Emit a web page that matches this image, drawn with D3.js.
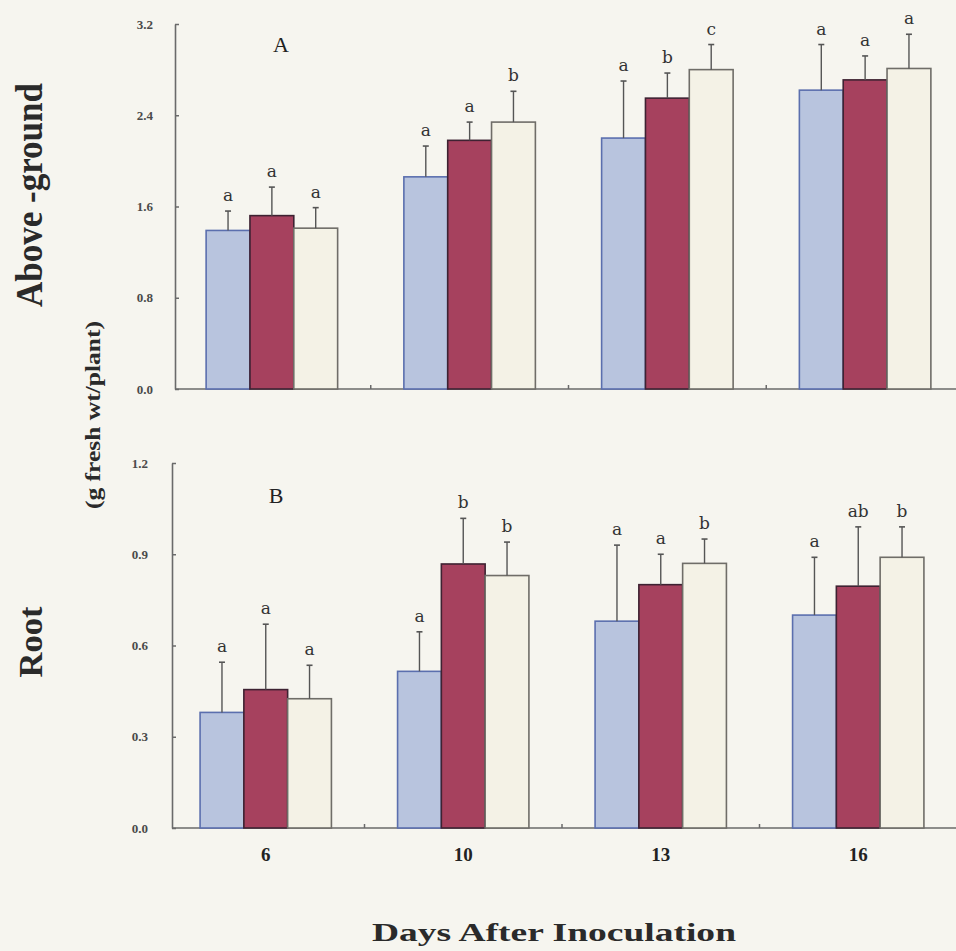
<!DOCTYPE html>
<html>
<head>
<meta charset="utf-8">
<script src="https://cdn.jsdelivr.net/npm/d3@7"></script>
<style>
  html, body { margin: 0; padding: 0; background: #f6f5ef; }
  svg { display: block; }
</style>
</head>
<body>
<svg id="chart" width="956" height="951"></svg>
<script>
// ---------------- DATA ----------------
const days = ["6", "10", "13", "16"];
const treatments = ["blue", "red", "cream"];

// Panel A: Above-ground (g fresh wt/plant)
const aboveBlue  = [1.39, 1.86, 2.20, 2.62];
const aboveRed   = [1.52, 2.18, 2.55, 2.71];
const aboveCream = [1.41, 2.34, 2.80, 2.81];
const aboveBlueErr  = [0.17, 0.27, 0.50, 0.40];
const aboveRedErr   = [0.25, 0.16, 0.22, 0.21];
const aboveCreamErr = [0.18, 0.27, 0.22, 0.30];
const aboveBlueSig  = ["a", "a", "a", "a"];
const aboveRedSig   = ["a", "a", "b", "a"];
const aboveCreamSig = ["a", "b", "c", "a"];
const aboveTicks = [0.0, 0.8, 1.6, 2.4, 3.2];

// Panel B: Root (g fresh wt/plant)
const rootBlue  = [0.38, 0.515, 0.68, 0.70];
const rootRed   = [0.455, 0.868, 0.80, 0.795];
const rootCream = [0.425, 0.83, 0.87, 0.89];
const rootBlueErr  = [0.165, 0.13, 0.25, 0.19];
const rootRedErr   = [0.215, 0.15, 0.10, 0.195];
const rootCreamErr = [0.11, 0.11, 0.08, 0.10];
const rootBlueSig  = ["a", "a", "a", "a"];
const rootRedSig   = ["a", "b", "a", "ab"];
const rootCreamSig = ["a", "b", "b", "b"];
const rootTicks = [0.0, 0.3, 0.6, 0.9, 1.2];

const xTitle = "Days After Inoculation";

// ---------------- STYLE ----------------
const fills   = { blue: "#b8c4de", red: "#a6415e", cream: "#f4f2e6" };
const strokes = { blue: "#5b6fae", red: "#3e2232", cream: "#6f6d68" };
const axisColor = "#6a6a6a";
const serif = "'Liberation Serif', 'DejaVu Serif', serif";
const slab = "'DejaVu Serif', 'Liberation Serif', serif";

const svg = d3.select("#chart");

function buildRows(b, r, c, be, re, ce, bs, rs, cs) {
  return days.map((d, i) => ({
    day: d,
    vals: [
      { t: "blue",  v: b[i], e: be[i], s: bs[i] },
      { t: "red",   v: r[i], e: re[i], s: rs[i] },
      { t: "cream", v: c[i], e: ce[i], s: cs[i] }
    ]
  }));
}

function drawPanel(cfg) {
  const g = svg.append("g");
  const x0 = d3.scaleBand().domain(days).range(cfg.xRange).paddingInner(0.335).paddingOuter(0.1675);
  const x1 = d3.scaleBand().domain(treatments).range([0, x0.bandwidth()]).padding(0);
  const y = d3.scaleLinear().domain([0, cfg.yMax]).range([cfg.y0, cfg.yTop]);

  // y axis
  const yAxis = d3.axisLeft(y).tickValues(cfg.ticks).tickFormat(d3.format(".1f"))
    .tickSizeInner(-4).tickSizeOuter(0).tickPadding(cfg.tickPad);
  const ya = g.append("g").attr("transform", `translate(${cfg.axisX},0)`).call(yAxis);
  ya.select(".domain").attr("stroke", axisColor).attr("stroke-width", 1.6);
  ya.selectAll(".tick line").attr("stroke", axisColor).attr("stroke-width", 1.5);
  ya.selectAll(".tick text").attr("font-family", serif).attr("font-weight", "bold")
    .attr("font-size", 13).attr("fill", "#4a4a4a");

  // baseline
  g.append("line").attr("x1", cfg.axisX).attr("x2", 956)
    .attr("y1", y(0)).attr("y2", y(0))
    .attr("stroke", axisColor).attr("stroke-width", 1.6);
  // small ticks at group boundaries
  const bounds = days.slice(1).map(d => x0(d) - x0.step() * x0.paddingInner() / 2);
  g.selectAll(".gtick").data(bounds).join("line")
    .attr("x1", d => d).attr("x2", d => d)
    .attr("y1", y(0)).attr("y2", y(0) - 4)
    .attr("stroke", axisColor).attr("stroke-width", 1.5);

  const groups = g.selectAll(".grp").data(cfg.rows).join("g")
    .attr("transform", d => `translate(${x0(d.day)},0)`);

  // bars
  groups.selectAll("rect").data(d => d.vals).join("rect")
    .attr("x", d => x1(d.t))
    .attr("y", d => y(d.v))
    .attr("width", x1.bandwidth())
    .attr("height", d => y(0) - y(d.v))
    .attr("fill", d => fills[d.t])
    .attr("stroke", d => strokes[d.t])
    .attr("stroke-width", 1.6);

  // error bars
  const eb = groups.selectAll(".err").data(d => d.vals).join("g").attr("class", "err");
  eb.append("line")
    .attr("x1", d => x1(d.t) + x1.bandwidth() / 2)
    .attr("x2", d => x1(d.t) + x1.bandwidth() / 2)
    .attr("y1", d => y(d.v))
    .attr("y2", d => y(d.v + d.e))
    .attr("stroke", "#555").attr("stroke-width", 1.4);
  eb.append("line")
    .attr("x1", d => x1(d.t) + x1.bandwidth() / 2 - 3)
    .attr("x2", d => x1(d.t) + x1.bandwidth() / 2 + 3)
    .attr("y1", d => y(d.v + d.e))
    .attr("y2", d => y(d.v + d.e))
    .attr("stroke", "#555").attr("stroke-width", 1.6);

  // significance letters
  groups.selectAll(".sig").data(d => d.vals).join("text")
    .attr("x", d => x1(d.t) + x1.bandwidth() / 2)
    .attr("y", d => y(d.v + d.e) - 10)
    .attr("text-anchor", "middle")
    .attr("font-family", slab)
    .attr("font-size", 17)
    .attr("fill", "#333")
    .text(d => d.s);

  // panel letter
  g.append("text").attr("x", cfg.letterX).attr("y", cfg.letterY)
    .attr("text-anchor", "middle").attr("font-family", serif)
    .attr("font-size", 22).attr("fill", "#222").text(cfg.letter);

  return { x0, y };
}

const panelA = drawPanel({
  rows: buildRows(aboveBlue, aboveRed, aboveCream, aboveBlueErr, aboveRedErr, aboveCreamErr,
                  aboveBlueSig, aboveRedSig, aboveCreamSig),
  xRange: [173, 964], axisX: 175, y0: 389, yTop: 24, yMax: 3.2,
  ticks: aboveTicks, tickPad: 22, letter: "A", letterX: 281, letterY: 52
});

const panelB = drawPanel({
  rows: buildRows(rootBlue, rootRed, rootCream, rootBlueErr, rootRedErr, rootCreamErr,
                  rootBlueSig, rootRedSig, rootCreamSig),
  xRange: [167, 957], axisX: 172, y0: 828, yTop: 463, yMax: 1.2,
  ticks: rootTicks, tickPad: 24, letter: "B", letterX: 276, letterY: 503
});

// x tick labels (bottom panel)
svg.append("g").selectAll("text").data(days).join("text")
  .attr("x", d => panelB.x0(d) + panelB.x0.bandwidth() / 2)
  .attr("y", 861)
  .attr("text-anchor", "middle")
  .attr("font-family", serif).attr("font-weight", "bold")
  .attr("font-size", 19).attr("fill", "#222")
  .text(d => d);

// x title
svg.append("text").attr("x", 554).attr("y", 941)
  .attr("text-anchor", "middle")
  .attr("font-family", serif).attr("font-weight", "bold")
  .attr("font-size", 25).attr("fill", "#2a2a2a")
  .attr("textLength", 364).attr("lengthAdjust", "spacingAndGlyphs")
  .text(xTitle);

// y titles
svg.append("text")
  .attr("transform", "translate(42,195) rotate(-90)")
  .attr("text-anchor", "middle")
  .attr("font-family", serif).attr("font-weight", "bold")
  .attr("font-size", 38).attr("fill", "#2a2a2a")
  .attr("textLength", 224).attr("lengthAdjust", "spacingAndGlyphs")
  .text("Above -ground");

svg.append("text")
  .attr("transform", "translate(100,415) rotate(-90)")
  .attr("text-anchor", "middle")
  .attr("font-family", serif).attr("font-weight", "bold")
  .attr("font-size", 21).attr("fill", "#2a2a2a")
  .attr("textLength", 188).attr("lengthAdjust", "spacingAndGlyphs")
  .text("(g fresh wt/plant)");

svg.append("text")
  .attr("transform", "translate(42,642) rotate(-90)")
  .attr("text-anchor", "middle")
  .attr("font-family", serif).attr("font-weight", "bold")
  .attr("font-size", 33).attr("fill", "#2a2a2a")
  .attr("textLength", 71).attr("lengthAdjust", "spacingAndGlyphs")
  .text("Root");
</script>
</body>
</html>
